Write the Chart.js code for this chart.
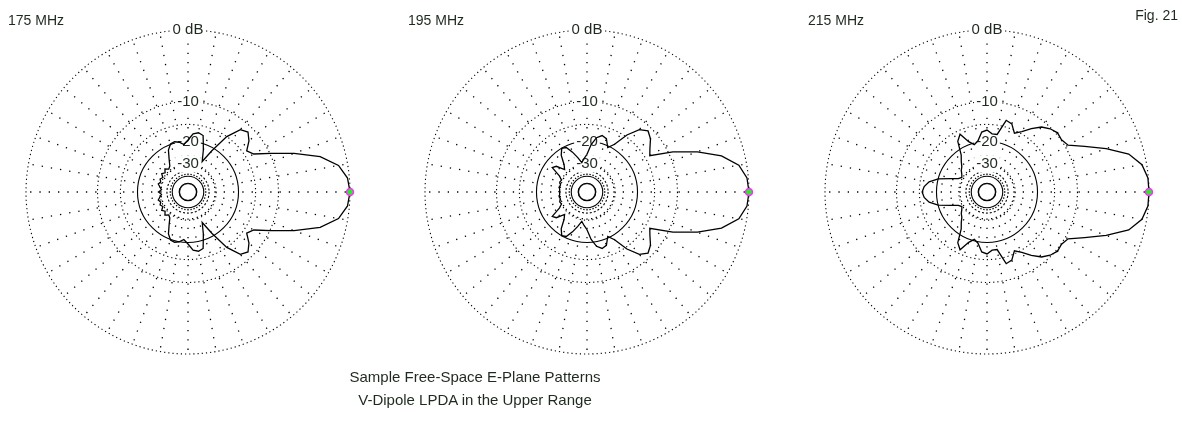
<!DOCTYPE html>
<html>
<head>
<meta charset="utf-8">
<script src="https://cdn.jsdelivr.net/npm/chart.js@4.4.1/dist/chart.umd.min.js"></script>
<style>
  body { margin: 0; background: #fff; width: 1182px; height: 427px; overflow: hidden; position: relative;
         font-family: "Liberation Sans", Arial, sans-serif; color: #1f291f; }
  .plot { position: absolute; }
  .txt { position: absolute; font-size: 14px; line-height: 14px; white-space: nowrap; }
  .cap { position: absolute; left: 275px; width: 400px; text-align: center; font-size: 15px; line-height: 15px; }
</style>
</head>
<body>
<canvas id="p175" class="plot" width="342" height="347"></canvas>
<canvas id="p195" class="plot" width="342" height="347"></canvas>
<canvas id="p215" class="plot" width="342" height="347"></canvas>

<div class="txt" style="left:8px;top:13px">175 MHz</div>
<div class="txt" style="left:408px;top:13px">195 MHz</div>
<div class="txt" style="left:808px;top:13px">215 MHz</div>
<div class="txt" style="right:4px;top:8px">Fig. 21</div>
<div class="cap" style="top:369px">Sample Free-Space E-Plane Patterns</div>
<div class="cap" style="top:392px">V-Dipole LPDA in the Upper Range</div>

<script>
// azimuth (deg from the main lobe), patterns are symmetric so only 0..180 is kept
const angles = [0, 5, 10, 15, 20, 25, 30, 35, 40, 45, 50, 55, 60, 65, 70, 75, 80, 85, 90,
                95, 100, 105, 110, 115, 120, 125, 130, 135, 140, 145, 150, 155, 160, 165, 170, 175, 180];

// gain in dB relative to max
const db175 = [0, -0.2, -1.0, -2.9, -6.2, -9.8, -13.0, -14.0, -12.2, -11.1, -11.8, -15.0, -21.0, -27.0, -22.0, -17.5, -17.0, -17.5, -19.5,
               -21.0, -20.0, -19.5, -19.8, -21.5, -25.0, -28.0, -29.0, -27.5, -29.0, -27.8, -29.5, -28.5, -29.5, -28.5, -29.8, -31.0, -29.2];
const db195 = [0, -0.15, -0.85, -2.6, -5.5, -9.2, -13.8, -12.8, -11.5, -10.8, -11.8, -14.5, -18.5, -20.5, -18.0, -17.5, -18.5, -21.0, -25.0,
               -27.0, -29.0, -26.0, -23.0, -20.5, -20.0, -22.0, -26.0, -28.0, -24.0, -23.0, -28.0, -30.0, -29.5, -30.5, -30.0, -30.5, -30.5];
const db215 = [0, -0.05, -0.5, -1.7, -4.2, -7.0, -9.4, -9.9, -9.7, -10.2, -11.1, -12.7, -14.5, -15.7, -13.8, -13.4, -17.5, -17.5, -16.5,
               -17.0, -19.5, -20.5, -19.0, -16.0, -17.5, -22.0, -24.0, -26.0, -27.0, -28.5, -29.5, -28.0, -24.5, -20.0, -17.4, -16.2, -15.7];

// grid rings (dB) and their labels
const ringDb     = [-50, -40, -35, -30, -20, -15, -10, 0];
const ringLabels = ['', '', '', '-30', '-20', '', '-10', '0 dB'];
const solidRings = [-50, -40, -20];
const dashRings  = [-35];

// ARRL log-periodic scale: every 2 dB the radius shrinks by 0.89
const arrl = db => Math.pow(0.89, -db / 2);

const STEP = 5;
const spokes = [];
for (let i = 0; i < 360 / STEP; i++) spokes.push(i * STEP);
const peakIndex = 90 / STEP;   // index pointing to the right (azimuth 0)
const RADIUS = 162;            // outer ring radius in px

function toRadar(dbs) {
  // radar index 0 is at the top, going clockwise
  return spokes.map((_, i) => {
    let a = ((90 - i * STEP) % 360 + 360) % 360;
    if (a > 180) a = 360 - a;
    return arrl(dbs[angles.indexOf(a)]);
  });
}

const fontFamily = '"Liberation Sans", Arial, sans-serif';

function makePlot(id, dbs, cx, cy) {
  const canvas = document.getElementById(id);
  const chart = new Chart(canvas, {
    type: 'radar',
    data: {
      labels: spokes,
      datasets: [{
        data: toRadar(dbs),
        borderColor: '#000',
        borderWidth: 1.3,
        fill: false,
        tension: 0,
        clip: false,
        pointRadius: c => c.index === peakIndex ? 3.5 : 0,
        pointHoverRadius: 0,
        pointBackgroundColor: '#2ee82e',
        pointBorderColor: '#ff2cff',
        pointBorderWidth: 1.5
      }]
    },
    options: {
      responsive: false,
      animation: false,
      devicePixelRatio: 1,
      layout: { padding: 6 },
      plugins: { legend: { display: false }, tooltip: { enabled: false } },
      scales: {
        r: {
          min: 0,
          max: 1,
          startAngle: 0,
          afterBuildTicks: s => {
            s.ticks = [0].concat(ringDb.map(arrl)).map(v => ({ value: v }));
          },
          ticks: {
            callback: (v, i) => i === 0 ? '' : ringLabels[i - 1],
            font: { size: 15, family: fontFamily },
            color: '#1f291f',
            showLabelBackdrop: true,
            backdropColor: c => (c.tick && c.tick.label) ? '#fff' : 'rgba(0,0,0,0)',
            backdropPadding: { x: 2, y: 1 }
          },
          grid: { circular: true, color: '#000', lineWidth: 1.1 },
          border: {
            dash: c => {
              const d = ringDb[c.index - 1];
              if (solidRings.includes(d)) return [];
              if (dashRings.includes(d)) return [2, 2];
              return [1.2, 3];
            }
          },
          angleLines: {
            color: c => c.index % 2 === 0 ? '#000' : 'rgba(0,0,0,0)',
            lineWidth: 1.3,
            borderDash: [1.3, 8],
            borderDashOffset: 1.5
          },
          pointLabels: { display: false }
        }
      }
    }
  });
  // grow the canvas until the outer ring has the wanted radius
  let r = chart.scales.r;
  for (let k = 0; k < 3 && Math.abs(r.drawingArea - RADIUS) > 0.4; k++) {
    const d = Math.round(2 * (RADIUS - r.drawingArea));
    chart.resize(canvas.width + d, canvas.height + d);
    r = chart.scales.r;
  }
  canvas.style.left = (cx - r.xCenter) + 'px';
  canvas.style.top = (cy - r.yCenter) + 'px';
}

makePlot('p175', db175, 188, 192);
makePlot('p195', db195, 587, 192);
makePlot('p215', db215, 987, 192);
</script>
</body>
</html>
